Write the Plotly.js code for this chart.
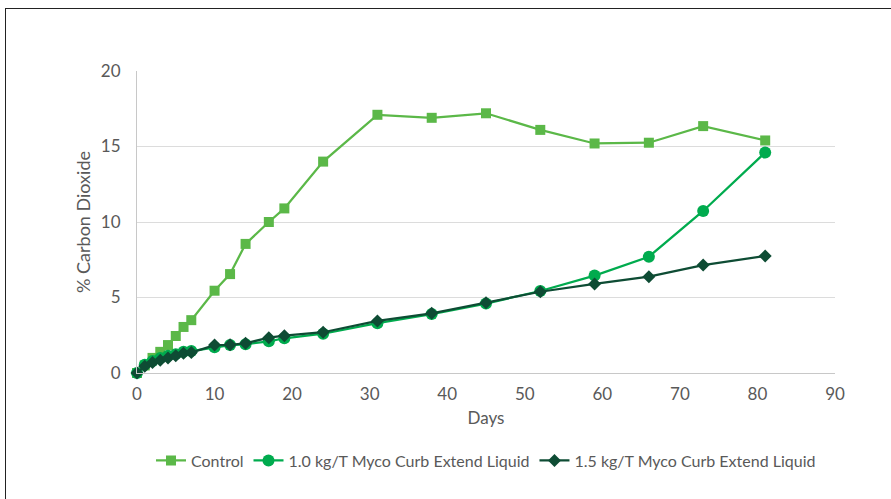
<!DOCTYPE html>
<html>
<head>
<meta charset="utf-8">
<script src="https://cdn.plot.ly/plotly-3.0.1.min.js"></script>
<style>
  html, body { margin: 0; padding: 0; background: #fff; }
  #chart { position: absolute; left: 0; top: 0; width: 891px; height: 499px; }
  #frame { position: absolute; left: 5px; top: 8px; width: 900px; height: 500px;
           border-left: 1.5px solid #222; border-top: 1.5px solid #222; pointer-events: none; }
</style>
</head>
<body>
<div id="chart"></div>
<div id="frame"></div>
<script>
const days = [0, 1, 2, 3, 4, 5, 6, 7, 10, 12, 14, 17, 19, 24, 31, 38, 45, 52, 59, 66, 73, 81];
const control = [0, 0.5, 1.0, 1.4, 1.85, 2.45, 3.05, 3.5, 5.45, 6.55, 8.55, 10.0, 10.9, 14.0, 17.1, 16.9, 17.2, 16.1, 15.2, 15.25, 16.35, 15.4];
const myco10 = [0, 0.55, 0.8, 1.0, 1.15, 1.25, 1.4, 1.45, 1.7, 1.85, 1.9, 2.1, 2.3, 2.6, 3.3, 3.9, 4.6, 5.43, 6.45, 7.7, 10.73, 14.6];
const myco15 = [0, 0.45, 0.7, 0.85, 1.0, 1.15, 1.3, 1.35, 1.85, 1.87, 1.97, 2.34, 2.47, 2.7, 3.45, 3.95, 4.65, 5.38, 5.9, 6.38, 7.15, 7.75];
const seriesNames = ['Control', '1.0 kg/T Myco Curb Extend Liquid', '1.5 kg/T Myco Curb Extend Liquid'];

const font = 'Lato, "Open Sans", sans-serif';
const traces = [
  { x: days, y: control, name: seriesNames[0], mode: 'lines+markers', type: 'scatter', cliponaxis: false,
    line: { color: '#5BB848', width: 2.25 }, marker: { symbol: 'square', size: 10, color: '#5BB848' } },
  { x: days, y: myco10, name: seriesNames[1], mode: 'lines+markers', type: 'scatter', cliponaxis: false,
    line: { color: '#00AB4E', width: 2.25 }, marker: { symbol: 'circle', size: 12, color: '#00AB4E' } },
  { x: days, y: myco15, name: seriesNames[2], mode: 'lines+markers', type: 'scatter', cliponaxis: false,
    line: { color: '#0E4C34', width: 2.25 }, marker: { symbol: 'diamond', size: 10, color: '#0E4C34' } }
];

const layout = {
  width: 891, height: 499,
  margin: { l: 137, r: 56, t: 71, b: 126 },
  paper_bgcolor: '#fff', plot_bgcolor: '#fff',
  font: { family: font, color: '#595959', size: 16 },
  showlegend: true,
  legend: { orientation: 'h', x: 0.5, xanchor: 'center', y: -0.29, yanchor: 'middle',
            font: { family: font, size: 16, color: '#595959' }, itemwidth: 30, tracegroupgap: 0 },
  xaxis: {
    range: [0, 90], dtick: 10, tick0: 0, showgrid: false, zeroline: false,
    showline: true, linecolor: '#c8c8c8', linewidth: 1, ticks: '',
    tickfont: { size: 17, color: '#595959' }, ticklabelstandoff: 6,
    title: { text: 'Days', font: { size: 17, color: '#595959' }, standoff: 8 }
  },
  yaxis: {
    range: [0, 20], dtick: 5, tick0: 0, showgrid: true, gridcolor: '#dcdcdc', gridwidth: 1,
    zeroline: false, showline: true, linecolor: '#c8c8c8', linewidth: 1, ticks: '',
    tickfont: { size: 17, color: '#595959' }, ticklabelstandoff: 12,
    title: { text: '% Carbon Dioxide', font: { size: 18, color: '#595959' }, standoff: 5 }
  }
};

Plotly.newPlot('chart', traces, layout, { displayModeBar: false, staticPlot: true });
</script>
</body>
</html>
